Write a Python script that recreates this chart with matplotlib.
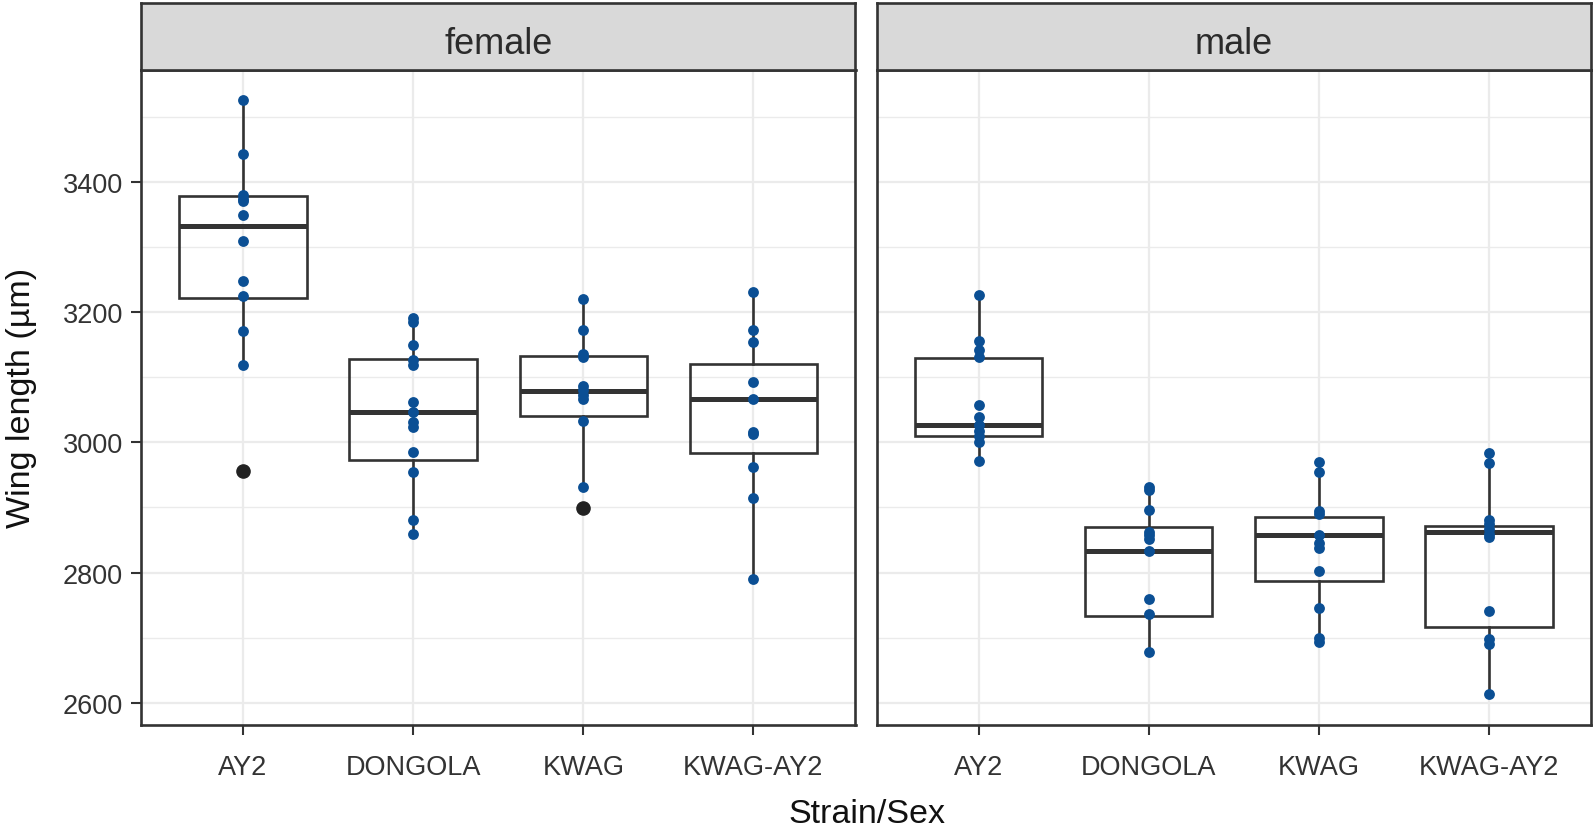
import matplotlib
matplotlib.use("Agg")
import matplotlib.pyplot as plt

plt.rcParams['font.family'] = ['Liberation Sans', 'DejaVu Sans']

# ---------------- data ----------------
strains = ["AY2", "DONGOLA", "KWAG", "KWAG-AY2"]
sexes = ["female", "male"]

female_AY2 = [3525, 3442, 3379, 3374, 3370, 3349, 3309, 3248, 3224, 3171, 3118, 2956]
female_DONGOLA = [3191, 3185, 3149, 3126, 3118, 3062, 3047, 3031, 3023, 2985, 2954, 2880, 2859]
female_KWAG = [3220, 3172, 3135, 3131, 3087, 3080, 3072, 3067, 3033, 2931, 2899]
female_KWAG_AY2 = [3230, 3172, 3154, 3092, 3067, 3016, 3013, 2962, 2914, 2790]

male_AY2 = [3226, 3155, 3141, 3131, 3058, 3039, 3026, 3018, 3010, 3000, 2972]
male_DONGOLA = [2932, 2927, 2896, 2862, 2857, 2851, 2833, 2759, 2736, 2678]
male_KWAG = [2970, 2955, 2895, 2890, 2857, 2846, 2837, 2803, 2745, 2700, 2693]
male_KWAG_AY2 = [2984, 2968, 2880, 2875, 2867, 2859, 2854, 2741, 2698, 2690, 2613]

# box statistics (per strain, in strain order)
female_q1 = [3222, 2973, 3041, 2984]
female_med = [3332, 3047, 3078, 3066]
female_q3 = [3378, 3128, 3133, 3120]
female_whislo = [3118, 2859, 2931, 2790]
female_whishi = [3525, 3191, 3220, 3230]
female_outliers = [[2956], [], [2899], []]

male_q1 = [3010, 2734, 2787, 2716]
male_med = [3026, 2833, 2857, 2862]
male_q3 = [3129, 2870, 2885, 2871]
male_whislo = [2972, 2678, 2693, 2613]
male_whishi = [3226, 2932, 2970, 2984]
male_outliers = [[], [], [], []]

y_ticks = [2600, 2800, 3000, 3200, 3400]
y_minor = [2700, 2900, 3100, 3300, 3500]
x_label = "Strain/Sex"
y_label = "Wing length (\u00b5m)"

points = {
    "female": [female_AY2, female_DONGOLA, female_KWAG, female_KWAG_AY2],
    "male": [male_AY2, male_DONGOLA, male_KWAG, male_KWAG_AY2],
}
stats = {
    "female": (female_q1, female_med, female_q3, female_whislo, female_whishi, female_outliers),
    "male": (male_q1, male_med, male_q3, male_whislo, male_whishi, male_outliers),
}

# ---------------- figure ----------------
W, H = 1594, 829
fig = plt.figure(figsize=(W / 100, H / 100), dpi=100)

def fx(px):
    return px / W

def fy(py):
    return 1 - py / H

panel_top, panel_bot = 70.7, 726
strip_top = 4
panels_x = [(141, 855.5), (876.5, 1591)]

border_col = "#333333"
grid_col = "#ebebeb"
point_col = "#0b4f94"
tick_col = "#333333"

for i, sex in enumerate(sexes):
    x0, x1 = panels_x[i]
    ax = fig.add_axes([fx(x0), fy(panel_bot), fx(x1) - fx(x0), fy(panel_top) - fy(panel_bot)])
    ax.set_xlim(0.4, 4.6)
    ax.set_ylim(2566, 3572)
    ax.set_facecolor("white")

    positions = list(range(1, len(strains) + 1))
    q1, med, q3, wlo, whi, outl = stats[sex]
    bxstats = []
    for j in range(len(strains)):
        bxstats.append(dict(q1=q1[j], med=med[j], q3=q3[j], whislo=wlo[j],
                            whishi=whi[j], fliers=outl[j], label=strains[j]))
    ax.bxp(bxstats, positions=positions, widths=0.75, showcaps=False,
           patch_artist=True,
           boxprops=dict(facecolor="none", edgecolor=border_col, linewidth=1.9),
           whiskerprops=dict(color=border_col, linewidth=1.9),
           medianprops=dict(color=border_col, linewidth=3.6),
           flierprops=dict(marker="o", markerfacecolor="#222222",
                           markeredgecolor="#222222", markersize=9.5),
           zorder=2)
    for ln in ax.lines:
        if ln.get_marker() == "o":
            ln.set_zorder(5)

    for j, vals in enumerate(points[sex]):
        ax.plot([positions[j]] * len(vals), vals, linestyle="none", marker="o",
                markersize=7.8, color=point_col, markeredgewidth=0, zorder=4)

    ax.set_xticks(positions)
    ax.set_xticklabels(strains)
    ax.set_yticks(y_ticks)
    ax.set_yticks(y_minor, minor=True)
    ax.grid(True, which="major", color=grid_col, linewidth=1.6, zorder=0)
    ax.grid(True, which="minor", axis="y", color=grid_col, linewidth=1.0, zorder=0)
    ax.set_axisbelow(True)
    ax.tick_params(axis="both", which="major", length=7, width=1.5, color=border_col,
                   labelsize=19.5, labelcolor=tick_col)
    ax.tick_params(axis="x", pad=14)
    ax.tick_params(axis="y", pad=6)
    ax.tick_params(which="minor", length=0)
    if i == 1:
        ax.tick_params(axis="y", which="both", left=False, labelleft=False)
    for s in ax.spines.values():
        s.set_color(border_col)
        s.set_linewidth(1.9)
        s.set_zorder(6)

    # strip
    sax = fig.add_axes([fx(x0), fy(panel_top), fx(x1) - fx(x0), fy(strip_top) - fy(panel_top)])
    sax.set_facecolor("#d9d9d9")
    sax.set_xticks([])
    sax.set_yticks([])
    for s in sax.spines.values():
        s.set_color(border_col)
        s.set_linewidth(1.9)
    sax.text(0.5, 0.40, sex, transform=sax.transAxes, ha="center", va="center",
             fontsize=26, color="#2b2b2b")

fig.text(fx(867), fy(815), x_label, ha="center", va="center", fontsize=24.5, color="#111111")
fig.text(fx(22), fy(398), y_label, ha="center", va="center", rotation=90,
         fontsize=24.5, color="#111111")

fig.savefig("out.png", dpi=100)
